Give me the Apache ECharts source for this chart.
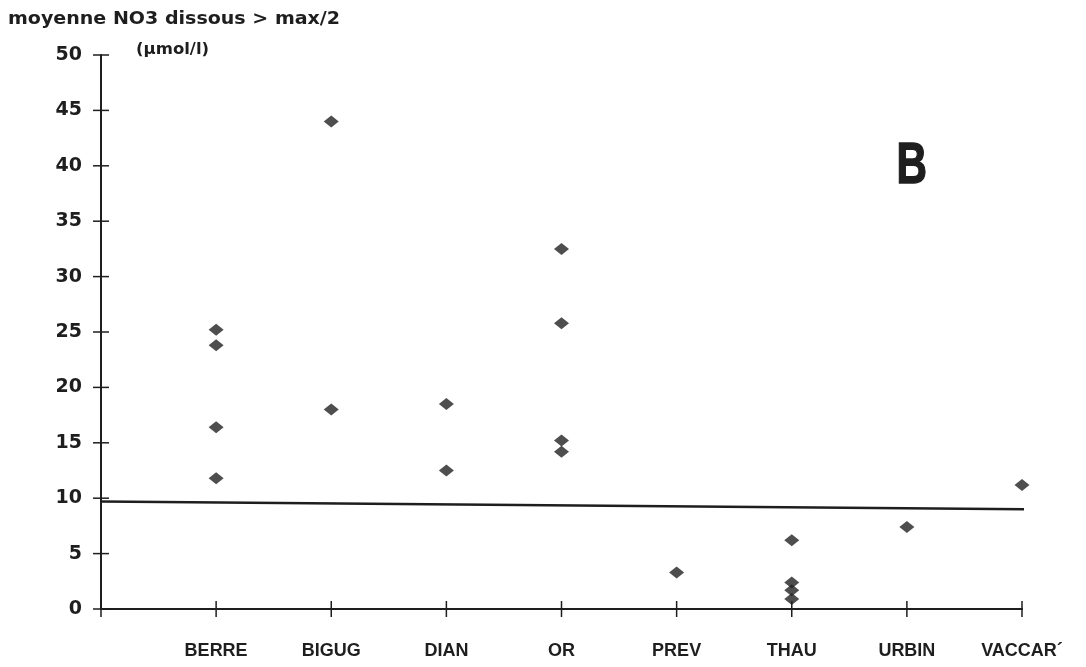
<!DOCTYPE html>
<html><head><meta charset="utf-8">
<script src="https://cdn.jsdelivr.net/npm/echarts@6/dist/echarts.min.js"></script>
<style>html,body{margin:0;padding:0;background:#fff}#c{width:1086px;height:667px}</style>
</head><body><div id="c"></div>
<script>
const categories = ['BERRE', 'BIGUG', 'DIAN', 'OR', 'PREV', 'THAU', 'URBIN', 'VACCAR\u00b4'];
const berre = [25.2, 23.8, 16.4, 11.8];
const bigug = [44.0, 18.0];
const dian = [18.5, 12.5];
const or = [32.5, 25.8, 15.2, 14.2];
const prev = [3.3];
const thau = [6.2, 2.4, 1.7, 0.9];
const urbin = [7.4];
const vaccar = [11.2];
const valuesByCategory = [berre, bigug, dian, or, prev, thau, urbin, vaccar];
const yTicks = [0, 5, 10, 15, 20, 25, 30, 35, 40, 45, 50];
const thresholdLine = [[0, 9.7], [8.12, 9.0]];

const points = [];
valuesByCategory.forEach((vals, i) => vals.forEach(v => points.push([i + 1, v])));
const xTickData = [0].concat(categories.map((c, i) => i + 1)).map(x => [x, 0]);
const yTickData = yTicks.map(v => [0, v]);

const ink = '#1e1e1e';
const TICK = 8;
const chart = echarts.init(document.getElementById('c'));
function tickSeries(data, horizontal) {
  return {
    type: 'custom', data: data, clip: false, silent: true, z: 2,
    renderItem: function (params, api) {
      const p = api.coord([api.value(0), api.value(1)]);
      const shape = horizontal
        ? { x1: p[0] - TICK, y1: p[1], x2: p[0] + TICK, y2: p[1] }
        : { x1: p[0], y1: p[1] - TICK, x2: p[0], y2: p[1] + TICK };
      return { type: 'line', shape: shape, style: { stroke: ink, lineWidth: 1.5 } };
    }
  };
}
chart.setOption({
  backgroundColor: '#fff',
  animation: false,
  graphic: [
    { type: 'text', left: 8, top: 11, scaleX: 1.12,
      style: { text: 'moyenne NO3 dissous > max/2', font: 'bold 17px "DejaVu Sans"', fill: ink } },
    { type: 'text', left: 136, top: 43, scaleX: 1.1,
      style: { text: '(\u00b5mol/l)', font: 'bold 15px "DejaVu Sans"', fill: ink } },
    { type: 'text', left: 896, top: 138, scaleX: 0.74,
      style: { text: 'B', font: 'bold 57px "Liberation Sans"', fill: ink, stroke: ink, lineWidth: 1.5 } }
  ],
  grid: { left: 101, right: 64, top: 55, bottom: 58 },
  xAxis: {
    type: 'value', min: 0, max: categories.length, interval: 1, splitLine: { show: false },
    axisLine: { show: true, lineStyle: { color: ink, width: 2 } },
    axisTick: { show: false },
    axisLabel: { margin: 33, color: ink, fontFamily: 'Liberation Sans', fontWeight: 'bold', fontSize: 18,
      formatter: v => (v >= 1 ? categories[v - 1] : '') }
  },
  yAxis: {
    type: 'value', min: yTicks[0], max: yTicks[yTicks.length - 1], interval: 5, splitLine: { show: false },
    axisLine: { show: true, lineStyle: { color: ink, width: 2 } },
    axisTick: { show: false },
    axisLabel: { margin: 19, color: ink, fontFamily: 'DejaVu Sans', fontWeight: 'bold', fontSize: 19 }
  },
  series: [
    tickSeries(xTickData, false),
    tickSeries(yTickData, true),
    { type: 'line', data: thresholdLine, clip: false, symbol: 'none',
      lineStyle: { color: ink, width: 2.5 }, z: 3 },
    { type: 'scatter', data: points, symbol: 'diamond', symbolSize: [15, 12],
      itemStyle: { color: '#222' }, z: 4 }
  ]
});
</script></body></html>
